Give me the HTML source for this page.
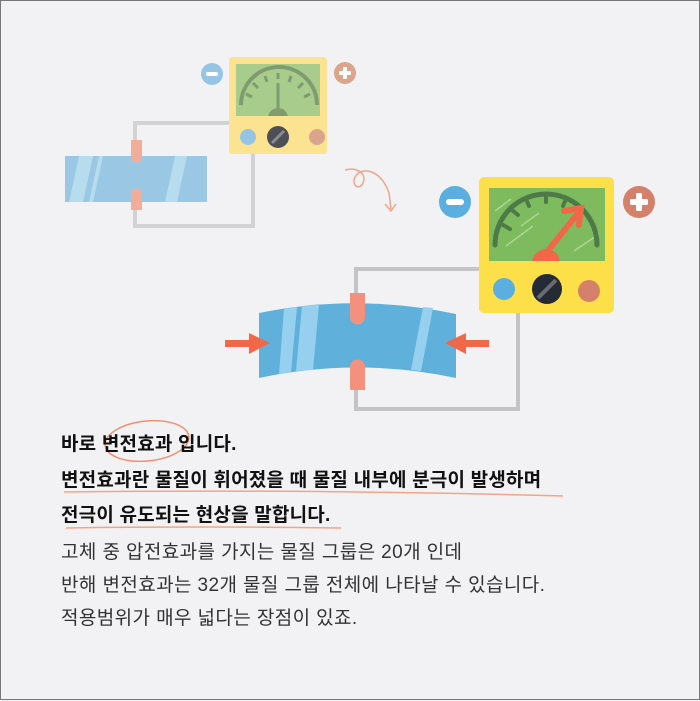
<!DOCTYPE html>
<html><head><meta charset="utf-8"><style>
html,body{margin:0;padding:0}
body{width:700px;height:700px;background:#f2f2f4;position:relative;overflow:hidden;box-sizing:border-box;border:1px solid #777}
svg{position:absolute;left:0;top:0}
.t{position:absolute;left:60px;font-family:"Liberation Sans","Noto Sans CJK KR",sans-serif;color:#222;white-space:nowrap}
.b{font-weight:bold;font-size:19px;color:#111;letter-spacing:0.2px}
.n{font-size:19px;color:#333;letter-spacing:0.4px}
</style></head><body>
<svg width="700" height="700" viewBox="0 0 700 700">
<defs><clipPath id="c1"><rect x="235" y="63" width="84" height="52"/></clipPath>
<clipPath id="c2"><rect x="488" y="187" width="116" height="73"/></clipPath></defs>
<g fill="none" stroke="#d2d2d4" stroke-width="4">
<path d="M134 150 V122 H230"/><path d="M134 200 V225 H252 V150"/></g>
<rect x="64" y="155" width="142" height="46" fill="#9ac8e4"/>
<polygon points="78,155 92,155 82,201 68,201" fill="#b6dcee"/>
<polygon points="98,155 102,155 92,201 88,201" fill="#b6dcee"/>
<polygon points="174,155 186,155 176,201 164,201" fill="#b6dcee"/>
<path d="M130 139 H141 V156 A5.5 5.5 0 0 1 130 156 Z" fill="#f2ac9a"/>
<path d="M130 209 H141 V193 A5.5 5.5 0 0 0 130 193 Z" fill="#f2ac9a"/>
<rect x="228" y="56" width="98" height="97" rx="3" fill="#fbe391"/>
<rect x="235" y="63" width="84" height="52" fill="#a8cc8c"/>
<g clip-path="url(#c1)">
<path d="M240 104 A38 38 0 0 1 316 104" fill="none" stroke="#7e9c70" stroke-width="4"/>
<circle cx="277" cy="117" r="10" fill="#7e9c70"/>
</g>
<g stroke="#7e9c70" stroke-width="3">
<line x1="277" y1="113" x2="277" y2="82"/>
<line x1="245" y1="93" x2="251" y2="96"/><line x1="252" y1="82" x2="257" y2="87"/>
<line x1="264" y1="75" x2="266" y2="81"/><line x1="277" y1="72" x2="277" y2="78"/>
<line x1="290" y1="75" x2="288" y2="81"/><line x1="302" y1="82" x2="297" y2="87"/><line x1="309" y1="93" x2="303" y2="96"/></g>
<circle cx="247" cy="136" r="8" fill="#95c4e4"/>
<circle cx="277" cy="136" r="11" fill="#4e4e58"/>
<line x1="271" y1="142" x2="283" y2="130" stroke="#8a8a90" stroke-width="3"/>
<circle cx="316" cy="136" r="8" fill="#dba48c"/>
<circle cx="211" cy="73" r="11" fill="#95c4e4"/><rect x="205" y="71" width="12" height="4" rx="2" fill="#fff"/>
<circle cx="344" cy="72" r="11" fill="#dba48c"/><rect x="338" y="70" width="12" height="4" rx="1" fill="#fff"/><rect x="342" y="66" width="4" height="12" rx="1" fill="#fff"/>
<path d="M344 169 C356 166 366 172 362 182 C358 190 350 184 354 176 C360 165 380 168 388 192 L390 208 M384 203 L390 210 L395 203" fill="none" stroke="#f0a48a" stroke-width="1.5"/>
<g fill="none" stroke="#c4c4c6" stroke-width="4">
<path d="M355 295 V268 H486"/><path d="M355 385 V408 H517 V295"/></g>
<path d="M258 312 Q356 292 455 313 V377 Q356 356 258 377 Z" fill="#60b0dc"/>
<path d="M283 308 L296 306 L290 371 L278 373 Z" fill="#96d0ee"/>
<path d="M301 305 L318 303 L312 369 L295 370 Z" fill="#96d0ee"/>
<path d="M422 306 L432 307 L420 370 L410 369 Z" fill="#96d0ee"/>
<path d="M349 292 H364 V316 A7.5 7.5 0 0 1 349 316 Z" fill="#f4907e"/>
<path d="M349 389 H364 V366 A7.5 7.5 0 0 0 349 366 Z" fill="#f4907e"/>
<g fill="#f06848"><rect x="224" y="339" width="26" height="7"/><polygon points="248,332 269,342 248,353"/>
<rect x="464" y="339" width="24" height="7"/><polygon points="465,332 444,342 465,353"/></g>
<rect x="478" y="176" width="135" height="136" rx="5" fill="#fddf4a"/>
<rect x="488" y="187" width="116" height="73" fill="#7dbb5e"/>
<g stroke="#b8dca0" stroke-width="1.5" opacity="0.8"><line x1="494" y1="210" x2="510" y2="198"/><line x1="520" y1="225" x2="538" y2="212"/><line x1="505" y1="245" x2="532" y2="225"/><line x1="573" y1="250" x2="598" y2="233"/></g>
<g clip-path="url(#c2)">
<path d="M494 244 A51 51 0 0 1 596 244" fill="none" stroke="#4e7a48" stroke-width="5" stroke-linecap="round"/>
<circle cx="545" cy="262" r="14" fill="#f06848"/>
</g>
<g stroke="#4e7a48" stroke-width="4" stroke-linecap="round">
<line x1="502" y1="224" x2="509" y2="228"/><line x1="511" y1="209" x2="517" y2="214"/><line x1="525" y1="198" x2="528" y2="205"/><line x1="545" y1="194" x2="545" y2="201"/><line x1="565" y1="198" x2="562" y2="205"/></g>
<g stroke="#f06848" stroke-width="6" stroke-linecap="round" fill="none"><line x1="545" y1="252" x2="578" y2="211"/><polyline points="563,210 580,207 578,224"/></g>
<circle cx="503" cy="288" r="11" fill="#5aaee0"/>
<circle cx="546" cy="288" r="15" fill="#242a36"/>
<line x1="537" y1="297" x2="555" y2="279" stroke="#6a6a70" stroke-width="4"/>
<circle cx="588" cy="290" r="11" fill="#d4806a"/>
<circle cx="454" cy="201" r="16" fill="#5aaee0"/><rect x="445" y="198" width="18" height="6" rx="3" fill="#fff"/>
<circle cx="638" cy="201" r="16" fill="#d4806a"/><rect x="629" y="198" width="18" height="6" rx="1.5" fill="#fff"/><rect x="635" y="192" width="6" height="18" rx="1.5" fill="#fff"/>
<ellipse cx="146" cy="440" rx="42" ry="20" fill="none" stroke="#ef9070" stroke-width="1.5" transform="rotate(-6 146 440)"/>
<path d="M63 491 Q300 488 562 495" fill="none" stroke="#f2a488" stroke-width="1.5"/>
<path d="M65 527 Q200 525 340 527" fill="none" stroke="#f2a488" stroke-width="1.5"/>
</svg>
<div class="t b" style="top:428px">바로 변전효과 입니다.</div>
<div class="t b" style="top:464px">변전효과란 물질이 휘어졌을 때 물질 내부에 분극이 발생하며</div>
<div class="t b" style="top:499px">전극이 유도되는 현상을 말합니다.</div>
<div class="t n" style="top:536px">고체 중 압전효과를 가지는 물질 그룹은 20개 인데</div>
<div class="t n" style="top:569px">반해 변전효과는 32개 물질 그룹 전체에 나타날 수 있습니다.</div>
<div class="t n" style="top:602px">적용범위가 매우 넓다는 장점이 있죠.</div>
</body></html>
